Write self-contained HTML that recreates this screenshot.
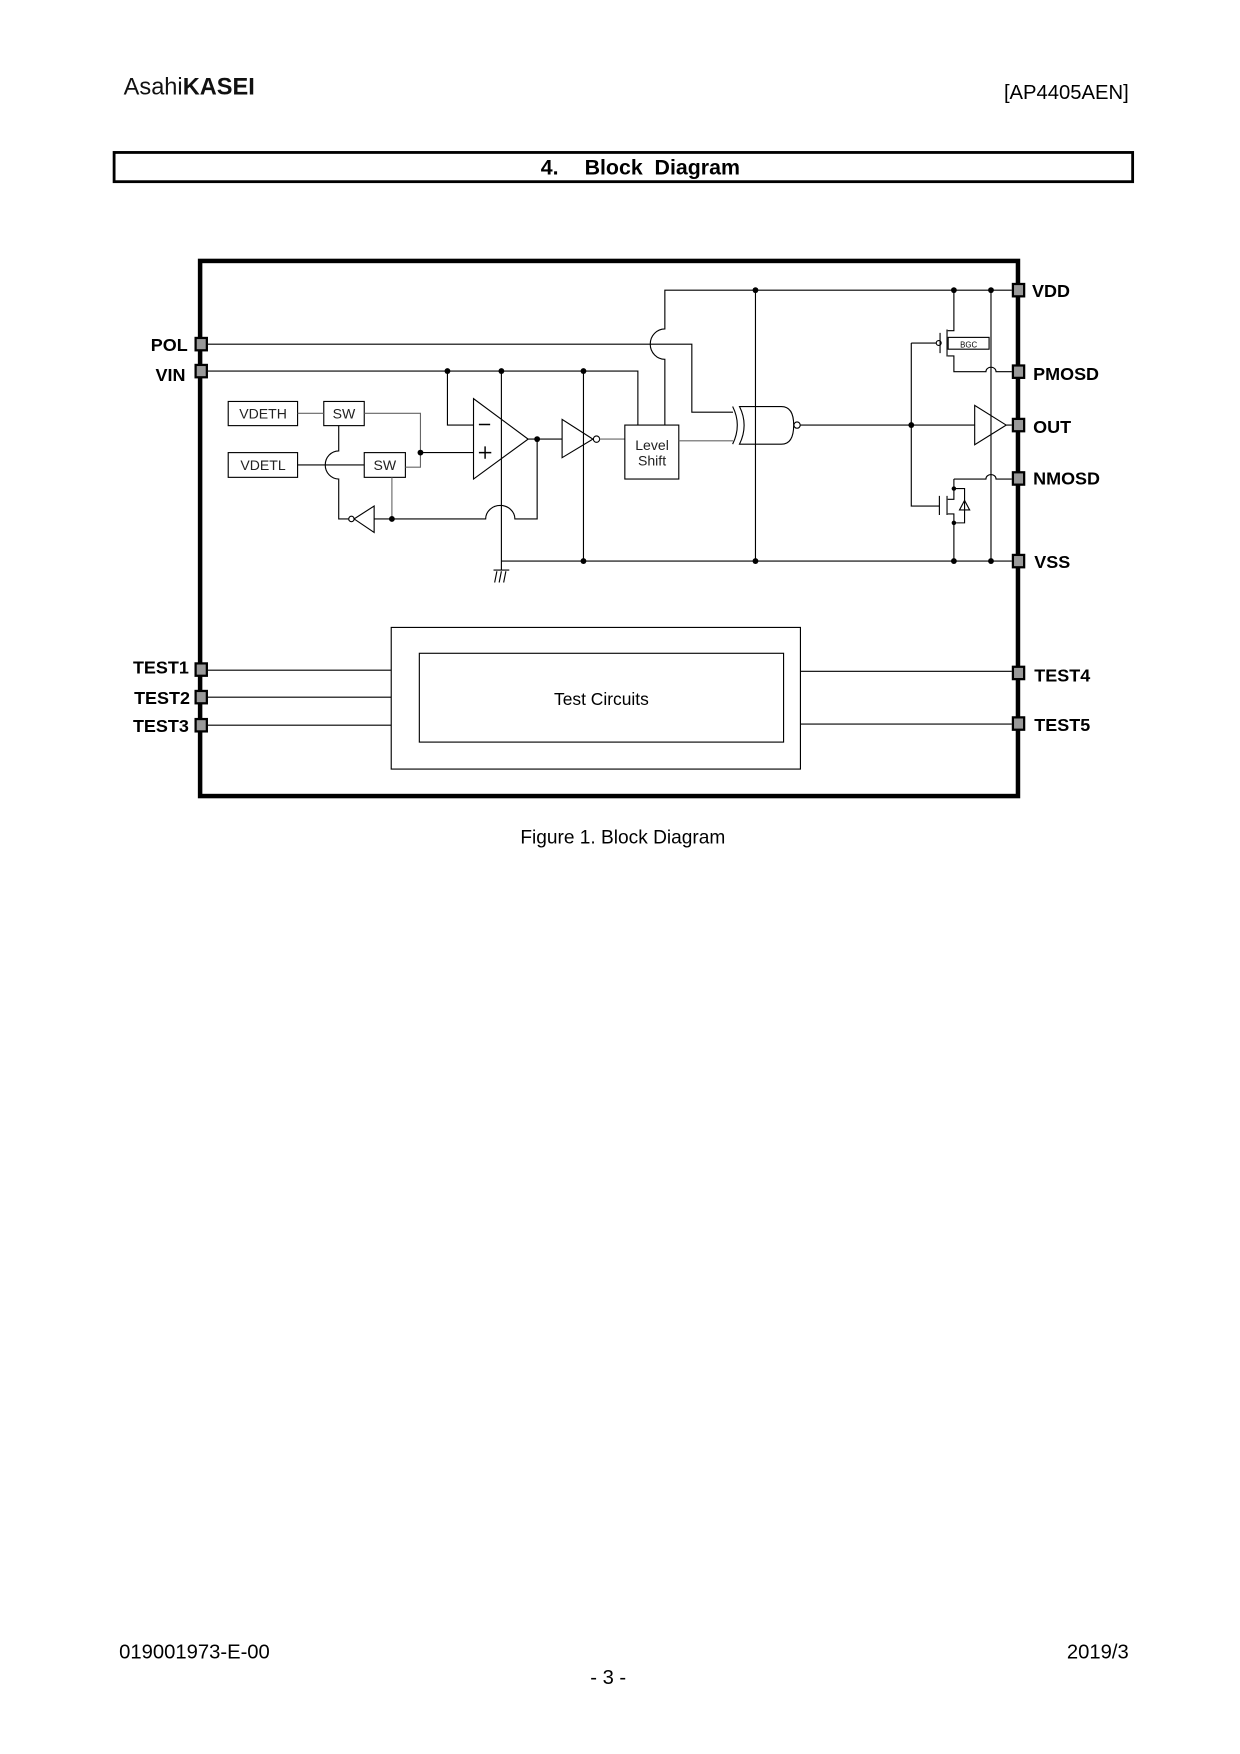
<!DOCTYPE html>
<html><head><meta charset="utf-8"><style>html,body{margin:0;padding:0;background:#fff}svg{display:block}</style></head>
<body>
<svg width="1240" height="1754" viewBox="0 0 1103 1560" xmlns="http://www.w3.org/2000/svg" font-family="Liberation Sans, sans-serif">
<rect width="1103" height="1560" fill="#fff"/>
<!-- header -->
<text x="110" y="84" font-size="21" fill="#111">Asahi<tspan font-weight="bold">KASEI</tspan></text>
<text x="1004" y="88" font-size="18" text-anchor="end" fill="#000">[AP4405AEN]</text>
<rect x="101.5" y="135.5" width="906" height="26" fill="none" stroke="#000" stroke-width="2.5"/>
<text x="481" y="155" font-size="19" font-weight="bold">4.</text>
<text x="520" y="155" font-size="19" font-weight="bold" xml:space="preserve">Block  Diagram</text>

<!-- main box -->
<rect x="178" y="232" width="727.5" height="476" fill="none" stroke="#000" stroke-width="4"/>

<g stroke="#000" stroke-width="1" fill="none">
<!-- POL -->
<path d="M185 306 H615.4 V366.5 H652"/>
<!-- VIN -->
<path d="M185 330 H567.4 V378"/>
<path d="M398 330 V378 H421"/>
<path d="M446 330 V507"/>
<path d="M519 330 V499"/>
<!-- VDD riser with hop over POL -->
<path d="M591.4 378 V319.5 A13 13.5 0 0 1 591.4 292.5 V258 H900"/>
<path d="M672 258 V499"/>
<!-- VSS -->
<path d="M446 499 H900"/>
<!-- ground -->
<path d="M439 507 H453 M442 508 L440 518 M446 508 L444 518 M450 508 L448 518"/>
<!-- opamp -->
<path d="M421.2 354.5 V426 L469.8 390.5 Z"/>
<path d="M426 377.5 H436 M426 402.5 H437 M431.5 397 V408" stroke-width="1.3"/>
<path d="M374 402.5 H421"/>
<path d="M469.8 390.5 H500"/>
<path d="M477.8 390.5 V461.5 H458 A13 12 0 0 0 432 461.5 H333"/>
<!-- inverter1 -->
<path d="M500 373 V407 L527.4 390.5 Z"/>
<circle cx="530.6" cy="390.5" r="2.8"/>
<path d="M533.4 390.5 H555.8" stroke="#666"/>
<!-- Level shift -->
<rect x="555.8" y="378" width="48" height="48"/>
<path d="M603.8 392 H652" stroke="#666"/>
<!-- XNOR -->
<path d="M651.7 361.5 Q660 378 651.7 395"/>
<path d="M657.8 361.5 H695 Q706 361.5 706 378 Q706 395 695 395 H657.8 Q666 378 657.8 361.5 Z"/>
<circle cx="709" cy="378" r="2.8"/>
<path d="M712 378 H867"/>
<!-- buffer -->
<path d="M867 360.5 V395.5 L895 378 Z"/>
<path d="M895 378 H900"/>
<!-- gate drives -->
<path d="M810.6 305 V450 H835.6 M810.6 305 H833"/>
<!-- PMOS -->
<circle cx="835" cy="305" r="2.2"/>
<path d="M836.2 296 V314 M842.4 293 V317"/>
<path d="M848.5 258 V294 H843 M843 316.5 H848.5 V330.5 H877 A4.5 4 0 0 1 886 330.5 H900"/>
<rect x="843.4" y="300" width="36.4" height="10.5"/>
<path d="M881.5 258 V499"/>
<!-- NMOS -->
<path d="M835.6 441 V458 M842.4 441 V458"/>
<path d="M848.5 426 H877 A4.5 4 0 0 1 886 426 H900 M848.5 426 V444 H843 M843 457 H848.5 V499"/>
<path d="M848.5 434.5 H858 V465 H848.5"/>
<path d="M853 453.5 H863 M858 445 L853.5 453.5 H862.5 Z"/>
<!-- VDETH / SW -->
<rect x="203" y="357" width="61.7" height="21.5"/>
<rect x="288" y="357" width="36" height="21.5"/>
<rect x="203" y="402.5" width="61.7" height="22"/>
<rect x="324" y="402.5" width="36.6" height="22"/>
<path d="M264.7 367.5 H288" stroke="#666"/>
<path d="M324 367.5 H374 V415.5 H360.6" stroke="#666"/>
<path d="M264.7 413.5 H324"/>
<path d="M301.3 378.5 V401 A12 12.5 0 0 0 301.3 426 V461.5 H310"/>
<path d="M348.6 424.5 V461.5" stroke="#666"/>
<!-- inverter2 -->
<path d="M332.8 450 V473.5 L315 461.5 Z"/>
<circle cx="312.6" cy="461.5" r="2.4"/>
<!-- test -->
<rect x="348" y="558" width="364" height="126"/>
<rect x="373" y="581" width="324" height="79"/>
<path d="M185 596 H348 M185 620 H348 M185 645 H348 M712 597 H900 M712 644 H900"/>
</g>
<!-- dots -->
<g fill="#000">
<circle cx="398" cy="330" r="2.6"/><circle cx="446" cy="330" r="2.6"/><circle cx="519" cy="330" r="2.6"/>
<circle cx="374" cy="402.5" r="2.6"/><circle cx="477.8" cy="390.5" r="2.6"/><circle cx="348.6" cy="461.5" r="2.6"/>
<circle cx="519" cy="499" r="2.6"/><circle cx="672" cy="499" r="2.6"/><circle cx="672" cy="258" r="2.6"/>
<circle cx="848.5" cy="258" r="2.6"/><circle cx="881.5" cy="258" r="2.6"/><circle cx="810.6" cy="378" r="2.6"/>
<circle cx="848.5" cy="499" r="2.6"/><circle cx="881.5" cy="499" r="2.6"/>
<circle cx="848.5" cy="434.5" r="2"/><circle cx="848.5" cy="465" r="2"/>
</g>
<!-- pins -->
<g fill="#999" stroke="#000" stroke-width="2">
<rect x="174" y="300.5" width="10" height="11"/><rect x="174" y="324.5" width="10" height="11"/>
<rect x="174" y="590" width="10" height="11"/><rect x="174" y="614.5" width="10" height="11"/><rect x="174" y="639.5" width="10" height="11"/>
<rect x="901" y="252.5" width="10" height="11"/><rect x="901" y="325" width="10" height="11"/><rect x="901" y="372.5" width="10" height="11"/>
<rect x="901" y="420" width="10" height="11"/><rect x="901" y="493.5" width="10" height="11"/>
<rect x="901" y="593" width="10" height="11"/><rect x="901" y="638" width="10" height="11"/>
</g>
<!-- labels -->
<g font-size="16" font-weight="bold">
<text x="167" y="312" text-anchor="end">POL</text>
<text x="165" y="339" text-anchor="end">VIN</text>
<text x="168" y="599" text-anchor="end">TEST1</text>
<text x="169" y="626" text-anchor="end">TEST2</text>
<text x="168" y="651" text-anchor="end">TEST3</text>
<text x="918" y="264">VDD</text>
<text x="919" y="338">PMOSD</text>
<text x="919" y="385">OUT</text>
<text x="919" y="431">NMOSD</text>
<text x="920" y="505">VSS</text>
<text x="920" y="606">TEST4</text>
<text x="920" y="650">TEST5</text>
</g>
<g font-size="12.5" fill="#222" text-anchor="middle">
<text x="234" y="372">VDETH</text>
<text x="306" y="372">SW</text>
<text x="234" y="418">VDETL</text>
<text x="342.3" y="418">SW</text>
<text x="580" y="400">Level</text>
<text x="580" y="414">Shift</text>
</g>
<text x="861.6" y="309" font-size="7" text-anchor="middle">BGC</text>
<text x="535" y="627" font-size="15.5" text-anchor="middle">Test Circuits</text>
<text x="554" y="750" font-size="17" text-anchor="middle">Figure 1. Block Diagram</text>
<!-- footer -->
<text x="106" y="1475" font-size="18">019001973-E-00</text>
<text x="1004" y="1475" font-size="18" text-anchor="end">2019/3</text>
<text x="541" y="1498" font-size="18" text-anchor="middle">- 3 -</text>
</svg>
</body></html>
